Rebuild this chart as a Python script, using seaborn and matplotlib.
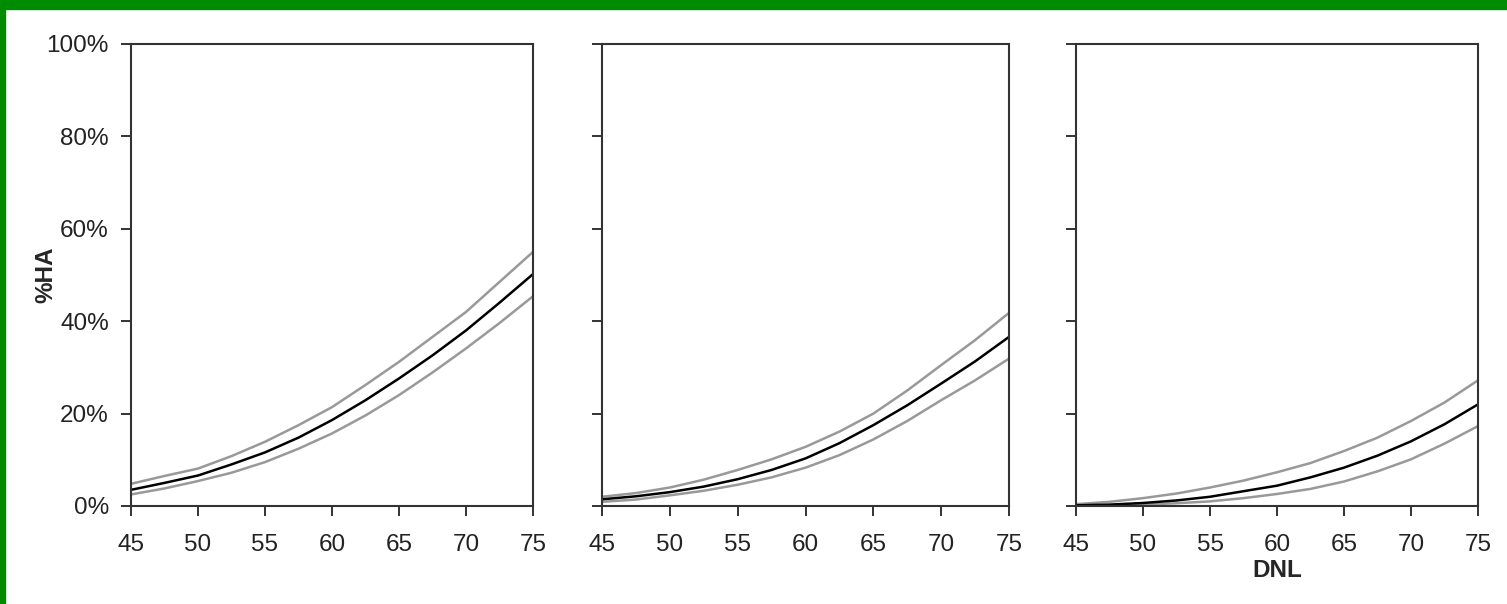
import numpy as np
import pandas as pd
import matplotlib
matplotlib.use("Agg")
import matplotlib.pyplot as plt
from matplotlib.patches import Rectangle
from matplotlib.ticker import PercentFormatter
import seaborn as sns

DNL = [45, 47.5, 50, 52.5, 55, 57.5, 60, 62.5, 65, 67.5, 70, 72.5, 75]

# panel 1
p1_mean = [3.5, 5.0, 6.6, 9.0, 11.6, 14.8, 18.6, 22.9, 27.6, 32.6, 38.0, 44.0, 50.2]
p1_upper = [4.8, 6.5, 8.1, 10.8, 13.9, 17.5, 21.4, 26.2, 31.2, 36.6, 42.0, 48.5, 55.0]
p1_lower = [2.5, 3.8, 5.4, 7.2, 9.5, 12.4, 15.7, 19.6, 24.0, 28.9, 34.1, 39.6, 45.4]

# panel 2
p2_mean = [1.45, 2.1, 3.0, 4.2, 5.8, 7.8, 10.3, 13.6, 17.5, 21.8, 26.5, 31.3, 36.6]
p2_upper = [2.0, 2.8, 4.0, 5.7, 7.8, 10.1, 12.8, 16.1, 20.0, 25.0, 30.5, 35.9, 41.8]
p2_lower = [0.9, 1.4, 2.3, 3.3, 4.6, 6.2, 8.3, 11.0, 14.4, 18.4, 22.9, 27.2, 31.9]

# panel 3
p3_mean = [0.15, 0.3, 0.65, 1.2, 2.0, 3.2, 4.4, 6.2, 8.3, 10.9, 14.0, 17.7, 22.0]
p3_upper = [0.4, 0.9, 1.7, 2.7, 4.0, 5.5, 7.3, 9.3, 11.9, 14.8, 18.4, 22.4, 27.2]
p3_lower = [0.05, 0.15, 0.3, 0.6, 1.0, 1.7, 2.6, 3.7, 5.3, 7.5, 10.1, 13.5, 17.3]

panels = [
    (p1_mean, p1_upper, p1_lower),
    (p2_mean, p2_upper, p2_lower),
    (p3_mean, p3_upper, p3_lower),
]

rows = []
for i, (m, u, l) in enumerate(panels):
    for name, vals in [("upper", u), ("lower", l), ("mean", m)]:
        for x, v in zip(DNL, vals):
            rows.append({"panel": i, "curve": name, "DNL": x, "HA": v / 100})
df = pd.DataFrame(rows)

sns.set_style("ticks")
plt.rcParams["font.family"] = ["Liberation Sans", "DejaVu Sans"]

fig = plt.figure(figsize=(15.07, 6.04), dpi=100)
lefts = [131, 602, 1076]
rights = [533, 1009, 1478]
top, bottom = 44, 506
W, H = 1507, 604

palette = {"mean": "black", "upper": "#999999", "lower": "#999999"}

axes = []
for i in range(3):
    ax = fig.add_axes([lefts[i] / W, 1 - bottom / H, (rights[i] - lefts[i]) / W, (bottom - top) / H])
    sns.lineplot(data=df[df["panel"] == i], x="DNL", y="HA", hue="curve",
                 palette=palette, linewidth=1.8, legend=False, ax=ax,
                 hue_order=["upper", "lower", "mean"])
    ax.set_xlim(45, 75)
    ax.set_ylim(0, 1)
    ax.set_xticks([45, 50, 55, 60, 65, 70, 75])
    ax.set_yticks([0, 0.2, 0.4, 0.6, 0.8, 1.0])
    ax.yaxis.set_major_formatter(PercentFormatter(1.0, decimals=0))
    ax.tick_params(axis="both", direction="out", length=7, width=1.4,
                   color="#333333", labelsize=17.5, labelcolor="#222222")
    ax.tick_params(axis="x", pad=13)
    ax.tick_params(axis="y", pad=9)
    for sp in ax.spines.values():
        sp.set_visible(True)
        sp.set_linewidth(1.5)
        sp.set_color("#333333")
    ax.set_xlabel("")
    ax.set_ylabel("")
    if i > 0:
        ax.set_yticklabels([])
    axes.append(ax)

axes[0].set_ylabel("%HA", fontsize=17.5, fontweight="bold", labelpad=-8)
axes[2].set_xlabel("DNL", fontsize=17.5, fontweight="bold", labelpad=2)

# green frame at top and left
fig.patches.append(Rectangle((0, 1 - 9 / H), 1, 9 / H, transform=fig.transFigure,
                             color="#008c00", zorder=10))
fig.patches.append(Rectangle((0, 0), 5 / W, 1, transform=fig.transFigure,
                             color="#008c00", zorder=10))

fig.savefig("out.png", dpi=100)
